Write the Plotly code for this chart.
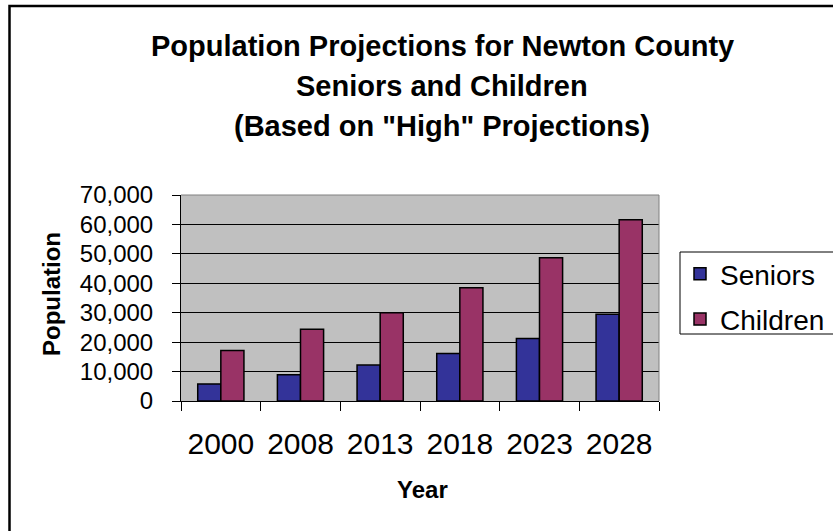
import plotly.graph_objects as go

years = ["2000", "2008", "2013", "2018", "2023", "2028"]
seniors = [5800, 8900, 12200, 16100, 21200, 29500]
children = [17200, 24400, 30000, 38500, 48700, 61600]

title_lines = [
    "Population Projections for Newton County",
    "Seniors and Children",
    "(Based on \"High\" Projections)",
]

FONT = "Liberation Sans, Arial, sans-serif"
W, H = 833, 531
L, R, T, B = 181, 174, 195, 130
PW, PH = W - L - R, H - T - B


def px_x(x):
    return (x - L) / PW


def px_y(y):
    return (H - B - y) / PH


fig = go.Figure()
fig.add_trace(go.Bar(
    name="Seniors", x=years, y=seniors, legendgroup="s",
    marker=dict(color="#333399", line=dict(color="black", width=1.5)),
))
fig.add_trace(go.Bar(
    name="Children", x=years, y=children, legendgroup="c",
    marker=dict(color="#993366", line=dict(color="black", width=1.5)),
))

annotations = []
for txt, yc in zip(title_lines, [46, 86, 126]):
    annotations.append(dict(
        text=f"<b>{txt}</b>", x=px_x(442), y=px_y(yc), xref="paper", yref="paper",
        xanchor="center", yanchor="middle", showarrow=False,
        font=dict(family=FONT, size=29, color="black"),
    ))
annotations.append(dict(
    text="<b>Year</b>", x=px_x(422), y=px_y(489), xref="paper", yref="paper",
    xanchor="center", yanchor="middle", showarrow=False,
    font=dict(family=FONT, size=24, color="black"),
))
annotations.append(dict(
    text="<b>Population</b>", x=px_x(51), y=px_y(294), xref="paper", yref="paper",
    xanchor="center", yanchor="middle", showarrow=False, textangle=-90,
    font=dict(family=FONT, size=24, color="black"),
))

fig.update_layout(
    width=W, height=H,
    margin=dict(l=L, r=R, t=T, b=B, pad=0, autoexpand=False),
    paper_bgcolor="white",
    plot_bgcolor="#C0C0C0",
    barmode="group", bargap=0.42, bargroupgap=0,
    font=dict(family=FONT, color="black"),
    annotations=annotations,
    showlegend=True,
    legend=dict(
        x=px_x(680), y=px_y(249), xanchor="left", yanchor="top",
        bgcolor="rgba(0,0,0,0)", borderwidth=0,
        font=dict(family=FONT, size=28, color="black"),
        traceorder="grouped", tracegroupgap=6,
    ),
    shapes=[
        # outer chart frame
        dict(type="rect", xref="paper", yref="paper",
             x0=px_x(9.5), y0=px_y(600), x1=px_x(900), y1=px_y(6),
             line=dict(color="black", width=2.5), layer="below"),
        # legend box
        dict(type="rect", xref="paper", yref="paper",
             x0=px_x(680), y0=px_y(334), x1=px_x(840), y1=px_y(252),
             line=dict(color="black", width=1), fillcolor="white", layer="below"),
        # plot area border on top and right
        dict(type="line", xref="paper", yref="paper", x0=0, x1=1, y0=1, y1=1,
             line=dict(color="#808080", width=1)),
        dict(type="line", xref="paper", yref="paper", x0=1, x1=1, y0=0, y1=1,
             line=dict(color="#808080", width=1)),
    ],
)

fig.update_xaxes(
    type="category",
    showline=True, linecolor="black", linewidth=1,
    ticks="outside", tickson="boundaries", ticklen=9, tickcolor="black",
    tickfont=dict(family=FONT, size=30, color="black"),
    ticklabelstandoff=16,
    showgrid=False,
)
fig.update_yaxes(
    range=[0, 70000], dtick=10000, tickformat=",",
    showline=True, linecolor="black", linewidth=1,
    ticks="outside", ticklen=8, tickcolor="black",
    tickfont=dict(family=FONT, size=24, color="black"),
    ticklabelstandoff=14,
    showgrid=True, gridcolor="black", gridwidth=1,
    zeroline=False,
)

fig.write_html("out.html")
